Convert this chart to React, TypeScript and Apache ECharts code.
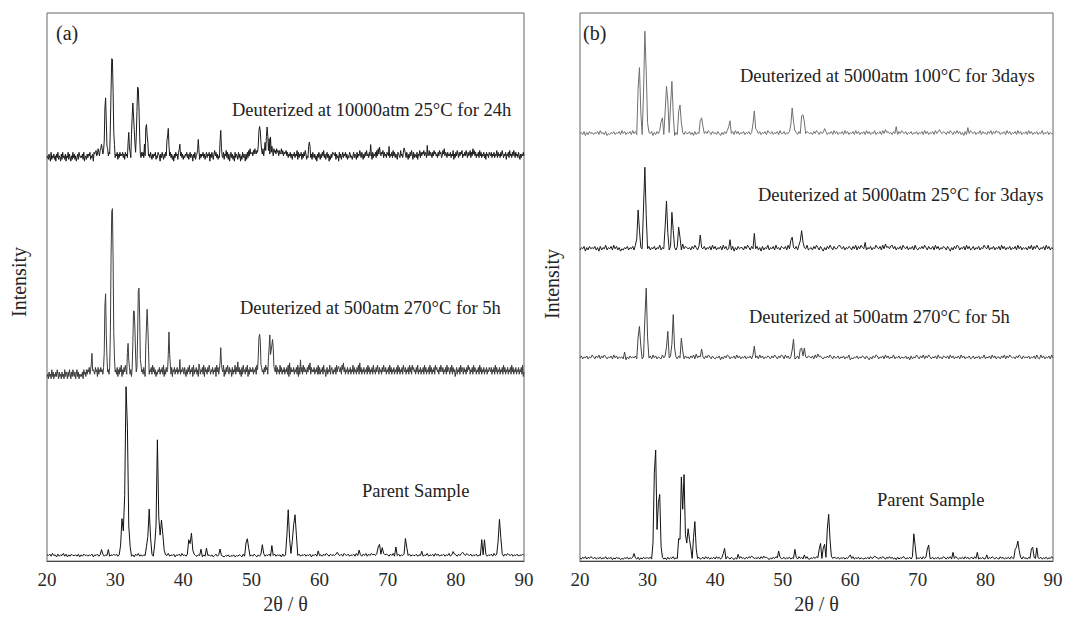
import React, { useEffect, useRef } from "react";
import * as echarts from "echarts";

// ---- x axis ----
const X_MIN = 20;
const X_MAX = 90;
const X_TICK = 10;

// ---- series labels ----
const labelsA = ["Deuterized at 10000atm 25°C for 24h", "Deuterized at 500atm 270°C for 5h", "Parent Sample"];
const labelsB = ["Deuterized at 5000atm 100°C for 3days", "Deuterized at 5000atm 25°C for 3days", "Deuterized at 500atm 270°C for 5h", "Parent Sample"];

// ---- (a) 10000atm 25°C 24h : step 0.1, baseline 412 ----
const baseA1 = 412;
const noiseA1 =
  "34253162435241536243152634251436253142635241352643" +
  "43526134253546243516567458647568574657584657564756" +
  "35462536454635264536546354625364453645364635465364" +
  "53642535462436541536425364735246352415364526354635" +
  "24354635246354153624536425354635246354615364257463" +
  "52436514362547362514635241635426351426354152637485" +
  "56475865764758675847675847658657486758674756857465" +
  "57463546352546354726354625364752435463526435241536" +
  "42536473524635142536354625341635246354635243653424" +
  "63542635475364253647453647526354637485964657364536" +
  "54635463746354265437453647536425364752635436254736" +
  "46574653645746536475645364756347584653645463547253" +
  "64753646573546475364573648574635463746354635264536" +
  "54635463547364536475354625463745364753645364253546" +
  "4";
const peaksA1: [number, number][] = [
  [27.9, 6], [28.0, 8],
  [28.4, 15], [28.5, 45], [28.6, 57], [28.7, 30], [28.8, 8],
  [29.3, 25], [29.4, 65], [29.5, 95], [29.6, 98], [29.7, 60], [29.8, 22], [29.9, 8],
  [31.9, 10], [32.0, 22], [32.1, 8],
  [32.4, 20], [32.5, 40], [32.6, 50], [32.7, 44], [32.8, 25], [32.9, 15],
  [33.1, 20], [33.2, 45], [33.3, 68], [33.4, 70], [33.5, 45], [33.6, 20],
  [34.3, 10], [34.5, 25], [34.6, 30], [34.7, 22], [34.8, 10],
  [37.6, 10], [37.7, 22], [37.8, 26], [37.9, 14],
  [39.4, 8], [39.5, 10],
  [42.1, 8], [42.2, 13], [42.3, 6],
  [45.4, 12], [45.5, 24], [45.6, 14],
  [51.0, 10], [51.1, 20], [51.2, 28], [51.3, 18], [51.4, 10],
  [52.0, 10], [52.2, 18], [52.3, 22], [52.4, 20], [52.6, 14], [52.8, 12], [53.0, 8],
  [58.4, 8], [58.5, 14], [58.6, 6],
  [62.0, 5], [67.5, 6], [70.2, 6], [72.4, 8], [75.8, 7],
];

// ---- (a) 500atm 270°C 5h : step 0.1, baseline 193 ----
const baseA2 = 193;
const noiseA2 =
  "23142315241324253142314231524314253142532413524132" +
  "32415342535463547254364526354645364753645364253645" +
  "45362536472536475364463526473654635463745364253647" +
  "35463746352435463546372536453647362546354635463546" +
  "53642536473546273546352463546372645364753546354627" +
  "46354635472536475364526354736454635263745364725364" +
  "54635463754657364536475635463754635473645374635463" +
  "54637283645463546372635463746453647583645463546373" +
  "63546374524635473564354637463546375846354635463547" +
  "36453647384635463546374635463745364753645364754635" +
  "46374635463546374635463754635463746375645364735463" +
  "54637463546374635463756453647546354637465364736452" +
  "46354637465364536475635463746535463746354635463546" +
  "54635463746354635463746354635463746354635463546372" +
  "4";
const peaksA2: [number, number][] = [
  [26.5, 8], [26.6, 12], [26.7, 6],
  [28.4, 20], [28.5, 60], [28.6, 77], [28.7, 40], [28.8, 10],
  [29.3, 40], [29.4, 120], [29.5, 160], [29.6, 168], [29.7, 110], [29.8, 40], [29.9, 12],
  [31.8, 15], [31.9, 29], [32.0, 12],
  [32.6, 30], [32.7, 55], [32.8, 64], [32.9, 40], [33.0, 15],
  [33.3, 40], [33.4, 80], [33.5, 85], [33.6, 50], [33.7, 15],
  [34.5, 25], [34.6, 50], [34.7, 59], [34.8, 45], [34.9, 15],
  [37.8, 20], [37.9, 36], [38.0, 18],
  [39.5, 8], [42.3, 8],
  [45.4, 10], [45.5, 20], [45.6, 10],
  [48.0, 8],
  [51.0, 15], [51.1, 30], [51.2, 36], [51.3, 25], [51.4, 10],
  [52.5, 12], [52.6, 25], [52.7, 33], [52.8, 20], [52.9, 15], [53.0, 25], [53.1, 33], [53.2, 20], [53.3, 8],
  [57.2, 10], [62.8, 8],
];

// ---- (a) Parent : step 0.2, baseline 6 ----
const baseA3 = 6;
const noiseA3 =
  "54637452635473625364453625364535462546354635473546" +
  "46352645374635264735354637463546354635473546254637" +
  "45364753643546253645352463524324352435243542635463" +
  "53642536473546374635452635463746354635463546254635" +
  "45364753645463546375463546374653647364756475364756" +
  "53647354635463746354463546354735463746354635473546" +
  "53647364754635463547546354637463547364754635463546" +
  "4";
const peaksA3: [number, number][] = [
  [28.0, 6], [29.0, 4],
  [30.8, 12], [31.0, 36], [31.2, 25], [31.4, 60], [31.6, 172], [31.8, 128], [32.0, 30], [32.2, 8],
  [34.6, 8], [34.8, 20], [35.0, 45], [35.2, 18],
  [35.8, 10], [36.0, 30], [36.2, 116], [36.4, 40], [36.6, 20], [36.8, 36], [37.0, 20], [37.2, 6],
  [40.8, 16], [41.0, 10], [41.2, 22], [41.4, 6],
  [42.6, 5], [43.4, 6], [45.4, 8],
  [49.2, 12], [49.4, 17], [49.6, 6],
  [51.6, 11], [53.0, 8],
  [55.2, 20], [55.4, 45], [55.6, 18], [56.0, 15], [56.2, 30], [56.4, 42], [56.6, 20],
  [59.8, 4], [62.6, 4], [65.8, 4],
  [68.6, 8], [68.8, 12], [69.2, 8], [71.2, 8], [72.6, 18], [72.8, 6],
  [75.0, 3], [79.6, 4], [81.0, 4],
  [83.8, 14], [84.2, 16], [86.2, 15], [86.4, 36], [86.6, 18],
];

// ---- (b) 5000atm 100°C 3days : step 0.2, baseline 435 ----
const baseB1 = 435;
const noiseB1 =
  "45362536453546374536243546354637463546374635463547" +
  "35462536474536475364253647536446352635473546475364" +
  "53642536473546374635463546354637463546375463546374" +
  "46354635475364738465453647536454635463746354637463" +
  "54637463546374635473546374856453647364754635463546" +
  "35463746354637463546536475364746352635475463547364" +
  "53647364756354637463546374635463746354635473546354" +
  "4";
const peaksB1: [number, number][] = [
  [28.6, 45], [28.8, 67], [29.0, 20], [29.4, 40], [29.6, 104], [29.8, 60], [30.0, 12],
  [32.0, 12], [32.2, 15],
  [32.6, 20], [32.8, 48], [33.0, 30], [33.4, 30], [33.6, 51], [33.8, 20],
  [34.6, 20], [34.8, 29], [35.0, 8],
  [37.8, 10], [38.0, 17], [38.2, 6],
  [42.0, 8], [42.2, 12],
  [45.6, 10], [45.8, 21], [46.0, 6],
  [51.2, 10], [51.4, 25], [51.6, 12],
  [52.8, 15], [53.0, 20], [53.2, 8],
  [56.2, 5], [66.8, 4], [73.2, 5], [77.4, 5],
];

// ---- (b) 5000atm 25°C 3days : step 0.2, baseline 318 ----
const baseB2 = 318;
const noiseB2 =
  "35462536454635263547354637463524354635463746354637" +
  "46354635473546253647536473846545364753645463546374" +
  "63546374634536253645536475364746352635473546374536" +
  "54637463546374635473453647536425364753644635463546" +
  "53647364754635463547546374856437463546375463546374" +
  "35464753644637463546536425364763546374634635463547" +
  "54735463546374635463546374635453647364753546374635" +
  "4";
const peaksB2: [number, number][] = [
  [28.4, 10], [28.6, 37], [28.8, 20], [29.4, 40], [29.6, 84], [29.8, 30],
  [32.6, 20], [32.8, 51], [33.0, 15], [33.6, 37], [33.8, 15], [34.6, 22], [34.8, 8],
  [37.8, 14], [42.2, 8], [45.8, 12], [51.2, 6], [51.4, 13], [52.6, 8], [52.8, 16], [53.0, 8],
  [58.4, 5], [62.2, 4], [66.0, 4],
];

// ---- (b) 500atm 270°C 5h : step 0.2, baseline 207 ----
const baseB3 = 207;
const noiseB3 =
  "46354635475364736475354637463545362536454635263547" +
  "54637463543746354637453647536453647384652536475364" +
  "35462536476354637463546354637446374635465364753647" +
  "63746354734635463546546374856435464753644635463547" +
  "24354635465364253647635463746354735463544635263547" +
  "53647364753546374536546374635463746354634635463547" +
  "35463746355364736475453647536454635463743746354637" +
  "4";
const peaksB3: [number, number][] = [
  [26.6, 4], [28.6, 20], [28.8, 34], [29.0, 10], [29.6, 40], [29.8, 68], [30.0, 20],
  [32.8, 12], [33.0, 26], [33.6, 15], [33.8, 41], [34.0, 10], [35.0, 17], [35.2, 6],
  [38.0, 11], [45.8, 12], [51.4, 8], [51.6, 16], [52.6, 8], [52.8, 10], [53.2, 11],
];

// ---- (b) Parent : step 0.2, baseline 3 ----
const baseB4 = 3;
const noiseB4 =
  "53647364754635463547354625364524354635464536253645" +
  "54635463744635263547354637463563546374634637463546" +
  "37463546375364253647453647536454637485642536475364" +
  "46354635466374635473354647536453647384654635463547" +
  "54735463543546374536536475364746352635476354637463" +
  "54637463544635463547536473647535463746356374635463" +
  "45364753643746354637546354637453647364754635463547" +
  "4";
const peaksB4: [number, number][] = [
  [28.0, 5], [30.8, 15], [31.0, 87], [31.2, 109], [31.4, 30], [31.6, 55], [31.8, 65], [32.0, 12],
  [34.6, 19], [34.8, 20], [35.0, 81], [35.2, 50], [35.4, 84], [35.6, 25], [35.8, 15], [36.0, 29],
  [36.2, 20], [36.4, 10], [36.8, 20], [37.0, 38], [37.2, 8],
  [41.2, 5], [41.4, 9], [43.4, 3], [45.4, 3], [49.4, 8], [51.8, 8], [53.2, 3],
  [55.4, 10], [55.6, 14], [56.0, 10], [56.2, 15], [56.6, 30], [56.8, 43], [57.0, 20],
  [60.0, 3], [63.6, 3], [69.4, 25], [69.6, 12], [71.4, 10], [71.6, 13], [75.2, 5], [78.8, 5], [80.2, 3],
  [84.4, 8], [84.6, 12], [84.8, 17], [85.0, 8], [86.8, 8], [87.0, 12], [87.6, 9],
];

function build(noise: string, step: number, base: number, amp: number, peaks: [number, number][]) {
  const n = Math.round((X_MAX - X_MIN) / step) + 1;
  const pk = new Map<number, number>();
  peaks.forEach(([x, h]) => pk.set(Math.round((x - X_MIN) / step), h));
  const out: [number, number][] = [];
  for (let i = 0; i < n; i++) {
    const x = +(X_MIN + i * step).toFixed(2);
    const d = noise.charCodeAt(i % noise.length) - 48;
    out.push([x, base + (d - 4.5) * amp + (pk.get(i) ?? 0)]);
  }
  return out;
}

const FONT = "Liberation Serif";

export default function App() {
  const ref = useRef<HTMLDivElement>(null);
  useEffect(() => {
    document.body.style.margin = "0";
    const chart = echarts.init(ref.current!, undefined, { renderer: "svg" });
    const xAxisCommon = {
      type: "value" as const,
      min: X_MIN,
      max: X_MAX,
      interval: X_TICK,
      axisTick: { show: false },
      splitLine: { show: false },
      axisLine: { show: true, lineStyle: { color: "#444", width: 1 } },
      axisLabel: { fontFamily: FONT, fontSize: 19, color: "#2a2a2a", margin: 9 },
      name: "2θ / θ",
      nameLocation: "middle" as const,
      nameGap: 30,
      nameTextStyle: { fontFamily: FONT, fontSize: 20, color: "#2a2a2a" },
    };
    const yAxisCommon = {
      type: "value" as const,
      min: 0,
      axisLabel: { show: false },
      axisTick: { show: false },
      splitLine: { show: false },
      axisLine: { show: false },
    };
    const line = (data: [number, number][], color: string, xi: number) => ({
      type: "line" as const,
      data,
      xAxisIndex: xi,
      yAxisIndex: xi,
      showSymbol: false,
      symbol: "none",
      lineStyle: { color, width: 1 },
      silent: true,
    });
    const txt = (x: number, y: number, s: string, size: number, extra: any = {}) => ({
      type: "text",
      x,
      y,
      silent: true,
      style: { text: s, fill: "#222", font: `${size}px "${FONT}"`, textVerticalAlign: "middle", ...extra },
    });
    chart.setOption({
      animation: false,
      backgroundColor: "#fff",
      grid: [
        { left: 47, top: 13, width: 477, height: 556, show: true, borderColor: "#666", borderWidth: 1, backgroundColor: "transparent" },
        { left: 580, top: 13, width: 473, height: 557, show: true, borderColor: "#666", borderWidth: 1, backgroundColor: "transparent" },
      ],
      xAxis: [
        { ...xAxisCommon, gridIndex: 0 },
        { ...xAxisCommon, gridIndex: 1 },
      ],
      yAxis: [
        { ...yAxisCommon, gridIndex: 0, max: 556 },
        { ...yAxisCommon, gridIndex: 1, max: 557 },
      ],
      series: [
        line(build(noiseA1, 0.1, baseA1, 1.8, peaksA1), "#1c1c1c", 0),
        line(build(noiseA2, 0.1, baseA2, 2.3, peaksA2), "#3c3c3c", 0),
        line(build(noiseA3, 0.2, baseA3, 0.7, peaksA3), "#111", 0),
        line(build(noiseB1, 0.2, baseB1, 1.0, peaksB1), "#707070", 1),
        line(build(noiseB2, 0.2, baseB2, 1.2, peaksB2), "#1a1a1a", 1),
        line(build(noiseB3, 0.2, baseB3, 1.0, peaksB3), "#444", 1),
        line(build(noiseB4, 0.2, baseB4, 0.6, peaksB4), "#111", 1),
      ],
      graphic: [
        txt(56, 33, "(a)", 20),
        txt(583, 33, "(b)", 20),
        txt(232, 110, labelsA[0], 18.5),
        txt(240, 308, labelsA[1], 18.5),
        txt(362, 491, labelsA[2], 18.5),
        txt(740, 76, labelsB[0], 18.5),
        txt(758, 195, labelsB[1], 18.5),
        txt(749, 317, labelsB[2], 18.5),
        txt(877, 500, labelsB[3], 18.5),
        { ...txt(19, 282, "Intensity", 20, { textAlign: "center" }), rotation: Math.PI / 2 },
        { ...txt(552, 284, "Intensity", 20, { textAlign: "center" }), rotation: Math.PI / 2 },
      ],
    });
    return () => chart.dispose();
  }, []);
  return <div ref={ref} style={{ width: 1071, height: 619 }} />;
}
